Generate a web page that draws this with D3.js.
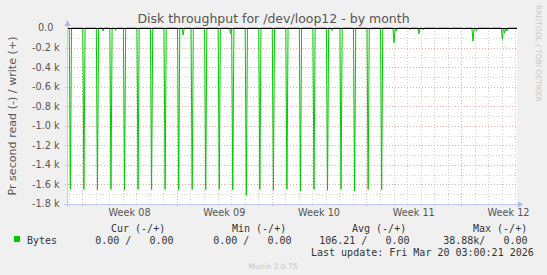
<!DOCTYPE html>
<html>
<head>
<meta charset="utf-8">
<script src="https://cdn.jsdelivr.net/npm/d3@7/dist/d3.min.js"></script>
<style>
  body { margin: 0; background: #f0f0f0; }
  text { font-family: "DejaVu Sans", sans-serif; }
  .mono { font-family: "DejaVu Sans Mono", monospace; white-space: pre; }
</style>
</head>
<body>
<svg id="chart" width="547" height="275"></svg>
<script>
// graph window (UTC), 2 hour samples like the munin month RRA
let range_start = "2026-02-14 21:00", range_end = "2026-03-20 03:00";

// the daily read burst, around 03:00 every day until Mar 10
let spike_days = ["2026-02-15","2026-02-16","2026-02-17","2026-02-18","2026-02-19","2026-02-20",
    "2026-02-21","2026-02-22","2026-02-23","2026-02-24","2026-02-25","2026-02-26","2026-02-27",
    "2026-02-28","2026-03-01","2026-03-02","2026-03-03","2026-03-04","2026-03-05","2026-03-06",
    "2026-03-07","2026-03-08","2026-03-09","2026-03-10"];
let spike_values = [1650,1650,1655,1650,1655,1650,1655,1650,1655,1650,1655,1650,1655,
    1710,1650,1655,1650,1665,1650,1660,1650,1665,1650,1655];

// small reads (bytes/s)
let small_times = ["2026-02-17 13:00","2026-02-18 11:00","2026-02-23 11:00","2026-02-26 23:00",
    "2026-03-06 11:00","2026-03-09 09:00","2026-03-11 01:00","2026-03-11 05:00","2026-03-12 05:00",
    "2026-03-12 21:00","2026-03-13 05:00","2026-03-14 05:00","2026-03-15 05:00","2026-03-16 05:00",
    "2026-03-16 21:00","2026-03-17 03:00","2026-03-18 05:00","2026-03-19 01:00","2026-03-19 05:00",
    "2026-03-19 09:00"];
let small_values = [30,25,72,58,25,10,150,30,15,60,20,10,12,12,135,30,10,115,50,30];

let y_ticks = [0,-200,-400,-600,-800,-1000,-1200,-1400,-1600,-1800];
let week_starts = ["2026-02-16","2026-02-23","2026-03-02","2026-03-09","2026-03-16"];
let week_labels = ["Week 08","Week 09","Week 10","Week 11","Week 12"];

let legend_heads = ["Cur (-/+)","Min (-/+)","Avg (-/+)","Max (-/+)"];
let legend_vals = ["0.00 /   0.00","0.00 /   0.00","106.21 /   0.00","38.88k/   0.00"];
let last_update = "Last update: Fri Mar 20 03:00:21 2026";

let parse = d3.utcParse("%Y-%m-%d %H:%M");
let t0 = parse(range_start), t1 = parse(range_end);

let p_left = 67, p_right = 517, p_top = 28, p_bottom = 204;

function build_series() {
    let ev = {};
    spike_days.forEach((d, i) => ev[+parse(d + " 03:00")] = spike_values[i]);
    small_times.forEach((d, i) => ev[+parse(d)] = small_values[i]);
    // step of 2 from t0 keeps the odd hours
    return d3.utcHour.range(t0, new Date(+t1 + 1), 2).map(t => ({t: t, v: -(ev[+t] || 0)}));
}

function draw() {
    let svg = d3.select("#chart");
    let x = d3.scaleUtc().domain([t0, t1]).range([p_left, p_right]);
    let y = d3.scaleLinear().domain([-1800, 0]).range([p_bottom, p_top]);

    svg.append("rect").attr("width", 547).attr("height", 275).attr("fill", "#f0f0f0");
    svg.append("rect").attr("x", p_left).attr("y", p_top).attr("width", p_right - p_left).attr("height", p_bottom - p_top).attr("fill", "#fff");

    let grid = svg.append("g").attr("fill", "none").attr("stroke-dasharray", "1,2");
    // minor horizontal every 100
    let minor = d3.range(-1700, 0, 200);
    grid.selectAll(".hmin").data(minor).join("line")
        .attr("x1", p_left).attr("x2", p_right)
        .attr("y1", d => Math.round(y(d)) + 0.5).attr("y2", d => Math.round(y(d)) + 0.5)
        .attr("stroke", "#d0d0d0");
    let days = d3.utcDay.range(t0, t1);
    grid.selectAll(".vmin").data(days).join("line")
        .attr("x1", d => Math.round(x(d)) + 0.5).attr("x2", d => Math.round(x(d)) + 0.5)
        .attr("y1", p_top).attr("y2", p_bottom + 2)
        .attr("stroke", "#d0d0d0");
    grid.selectAll(".hmaj").data(y_ticks.slice(1, -1)).join("line")
        .attr("x1", p_left - 2).attr("x2", p_right)
        .attr("y1", d => Math.round(y(d)) + 0.5).attr("y2", d => Math.round(y(d)) + 0.5)
        .attr("stroke", "#eaa8a8");
    let weeks = week_starts.map(d => parse(d + " 00:00"));
    grid.selectAll(".vmaj").data(weeks).join("line")
        .attr("x1", d => Math.round(x(d)) + 0.5).attr("x2", d => Math.round(x(d)) + 0.5)
        .attr("y1", p_top).attr("y2", p_bottom + 3)
        .attr("stroke", "#eaa8a8");

    // read series
    let series = build_series();
    let line = d3.line().x(d => x(d.t)).y(d => y(d.v));
    svg.append("path").datum(series)
        .attr("fill", "none").attr("stroke", "#00cc00").attr("stroke-width", 1)
        .attr("d", line);

    // zero line
    svg.append("line").attr("x1", p_left).attr("x2", p_right)
        .attr("y1", p_top + 0.5).attr("y2", p_top + 0.5)
        .attr("stroke", "#000").attr("stroke-width", 1);

    // axes
    svg.append("line").attr("x1", p_left + 0.5).attr("x2", p_left + 0.5).attr("y1", 24).attr("y2", p_bottom + 3)
        .attr("stroke", "#c4c8e8");
    svg.append("line").attr("x1", p_left - 3).attr("x2", p_right + 2).attr("y1", p_bottom + 0.5).attr("y2", p_bottom + 0.5)
        .attr("stroke", "#c4c8e8");
    svg.append("path").attr("d", `M${p_left - 2.5},26 L${p_left + 3.5},26 L${p_left + 0.5},20 Z`).attr("fill", "#a8b8f0");
    svg.append("path").attr("d", `M${p_right + 1},201.5 L${p_right + 1},207.5 L${p_right + 6},204.5 Z`).attr("fill", "#a8b8f0");

    // y labels
    svg.append("g").selectAll("text").data(y_ticks).join("text")
        .style("white-space", "pre")
        .attr("x", 59.5).attr("y", d => y(d)).attr("dy", "0.36em")
        .attr("text-anchor", "end").attr("font-size", "9.7px").attr("fill", "#555")
        .text(d => d === 0 ? "0.0  " : (d / 1000).toFixed(1) + " k");

    // week labels
    svg.append("g").selectAll("text").data(weeks).join("text")
        .attr("x", d => x(new Date(+d + 3.5 * 864e5)))
        .attr("y", 216).attr("text-anchor", "middle")
        .attr("font-size", "9.7px").attr("fill", "#555")
        .text((d, i) => week_labels[i]);

    // titles
    svg.append("text").attr("x", 273.5).attr("y", 23).attr("text-anchor", "middle")
        .attr("font-size", "12.5px").attr("fill", "#555")
        .text("Disk throughput for /dev/loop12 - by month");
    svg.append("text").attr("transform", `translate(16,${(p_top + p_bottom) / 2}) rotate(-90)`)
        .attr("text-anchor", "middle").attr("font-size", "11.1px").attr("fill", "#555")
        .text("Pr second read (-) / write (+)");
    svg.append("text").attr("transform", "translate(536,5) rotate(90)")
        .attr("font-size", "7.5px").attr("fill", "#c8c8c8")
        .text("RRDTOOL / TOBI OETIKER");

    // legend
    svg.append("rect").attr("x", 14).attr("y", 236).attr("width", 6).attr("height", 6).attr("fill", "#00cc00");
    svg.append("text").attr("class", "mono").attr("x", 27).attr("y", 243.5)
        .attr("font-size", "10px").attr("fill", "#333").text("Bytes");
    let head_x = [111, 232, 352, 473], val_end = [173.5, 291.5, 409.5, 527.5];
    svg.append("g").selectAll("text").data(legend_heads).join("text")
        .attr("class", "mono").attr("x", (d, i) => head_x[i]).attr("y", 232)
        .attr("font-size", "10px").attr("fill", "#333").text(d => d);
    svg.append("g").selectAll("text").data(legend_vals).join("text")
        .attr("class", "mono").attr("x", (d, i) => val_end[i]).attr("y", 243.5)
        .attr("text-anchor", "end")
        .attr("font-size", "10px").attr("fill", "#333").text(d => d);
    svg.append("text").attr("class", "mono").attr("x", 311).attr("y", 255.5)
        .attr("font-size", "10px").attr("fill", "#333").text(last_update);
    svg.append("text").attr("x", 273).attr("y", 268.5).attr("text-anchor", "middle")
        .attr("font-size", "7.5px").attr("fill", "#c4c4c4").text("Munin 2.0.75");
}

draw();
</script>
</body>
</html>
